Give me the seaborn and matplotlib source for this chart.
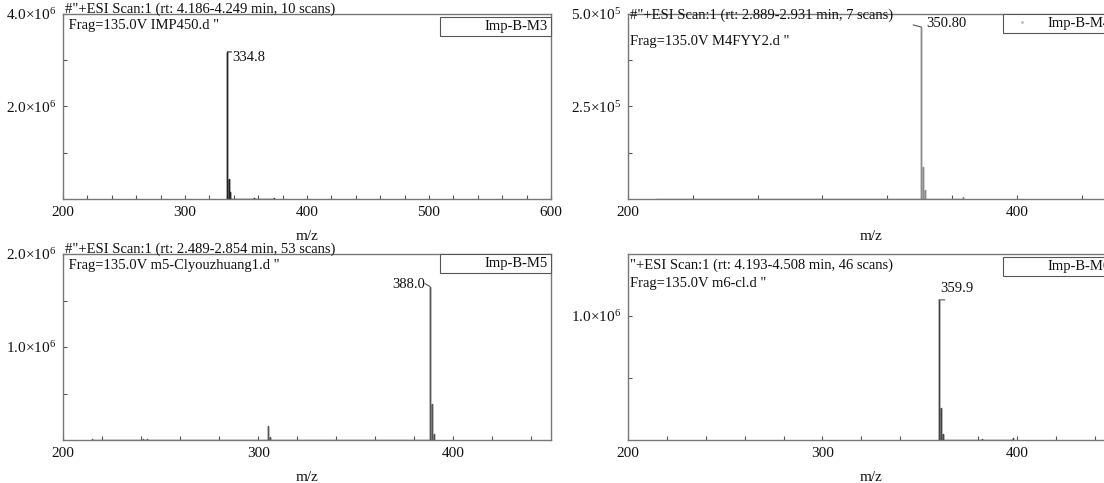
import numpy as np
import pandas as pd
import matplotlib
matplotlib.use("Agg")
import matplotlib.pyplot as plt
import seaborn as sns
from matplotlib.ticker import FixedLocator, FuncFormatter, MultipleLocator, AutoMinorLocator
from matplotlib.lines import Line2D

# ---------------- data ----------------
m3_mz = [334.8, 335.8, 336.8, 356.8, 372.9]
m3_int = [3.18e6, 0.43e6, 0.15e6, 0.012e6, 0.015e6]

m4_mz = [214.5, 350.8, 351.8, 352.8, 372.5]
m4_int = [0.006e5, 4.65e5, 0.86e5, 0.24e5, 0.05e5]

m5_mz = [215.0, 241.0, 243.0, 305.0, 306.0, 388.0, 389.0, 390.0]
m5_int = [0.006e6, 0.008e6, 0.006e6, 0.15e6, 0.03e6, 1.65e6, 0.39e6, 0.065e6]

m6_mz = [359.9, 360.9, 361.9, 382.0, 398.0]
m6_int = [1.13e6, 0.26e6, 0.05e6, 0.008e6, 0.02e6]

names = ["Imp-B-M3", "Imp-B-M4", "Imp-B-M5", "Imp-B-M6"]
headers = [
    '#"+ESI Scan:1 (rt: 4.186-4.249 min, 10 scans)',
    '#"+ESI Scan:1 (rt: 2.889-2.931 min, 7 scans)',
    '#"+ESI Scan:1 (rt: 2.489-2.854 min, 53 scans)',
    '"+ESI Scan:1 (rt: 4.193-4.508 min, 46 scans)',
]
frags = [
    ' Frag=135.0V IMP450.d "',
    'Frag=135.0V M4FYY2.d "',
    ' Frag=135.0V m5-Clyouzhuang1.d "',
    'Frag=135.0V m6-cl.d "',
]
peak_labels = ["334.8", "350.80", "388.0", "359.9"]
x_limits = [(200, 600), (200, 450), (200, 450), (200, 450)]
x_major = [[200, 300, 400, 500, 600], [200, 400], [200, 300, 400], [200, 300, 400]]
y_limits = [(0, 4.0e6), (0, 5.0e5), (0, 2.0e6), (0, 1.5e6)]
y_major = [[2.0e6, 4.0e6], [2.5e5, 5.0e5], [1.0e6, 2.0e6], [1.0e6]]
y_minor = [[1.0e6, 3.0e6], [1.25e5, 3.75e5], [0.5e6, 1.5e6], [0.5e6]]
line_colors = ["#222222", "#8a8a8a", "#555555", "#444444"]

# ---------------- style ----------------
sns.set_theme(style="white")
plt.rcParams["font.family"] = ["Liberation Serif", "DejaVu Serif"]
plt.rcParams["mathtext.fontset"] = "custom"
plt.rcParams["mathtext.rm"] = "Liberation Serif"
plt.rcParams["mathtext.default"] = "regular"

W, H = 1104, 483
fig = plt.figure(figsize=(W / 100, H / 100), dpi=100)
fig.patch.set_facecolor("white")


def rect(l, t, r, b):
    return [l / W, 1 - b / H, (r - l) / W, (b - t) / H]


positions = [rect(63, 14, 551, 199), rect(628, 14, 1114, 199),
             rect(63, 254, 551, 440), rect(628, 254, 1114, 440)]


def sci_fmt(v, pos):
    if v <= 0:
        return ""
    e = int(np.floor(np.log10(v)))
    m = v / 10 ** e
    return f"{m:.1f}×10$^{{{e}}}$"


spectra = [(m3_mz, m3_int), (m4_mz, m4_int), (m5_mz, m5_int), (m6_mz, m6_int)]
PX = 100 / 72  # px per point

for i, (mz, inten) in enumerate(spectra):
    ax = fig.add_axes(positions[i])
    # stick representation built from the peak lists
    xs, ys = [], []
    for m, h in sorted(zip(mz, inten)):
        xs += [m, m, m]
        ys += [0, h, 0]
    df = pd.DataFrame({"mz": xs, "intensity": ys})
    sns.lineplot(data=df, x="mz", y="intensity", sort=False, estimator=None,
                 color=line_colors[i], lw=1.0, ax=ax)
    ax.set_xlim(*x_limits[i])
    ax.set_ylim(*y_limits[i])
    ax.xaxis.set_major_locator(FixedLocator(x_major[i]))
    if i == 1:
        ax.xaxis.set_minor_locator(AutoMinorLocator(6))
    else:
        ax.xaxis.set_minor_locator(MultipleLocator(20))
    ax.yaxis.set_major_locator(FixedLocator(y_major[i]))
    ax.yaxis.set_minor_locator(FixedLocator(y_minor[i]))
    ax.yaxis.set_major_formatter(FuncFormatter(sci_fmt))
    ax.tick_params(which="both", direction="in", length=3, width=0.8,
                   colors="#555555", labelcolor="#111111", labelsize=11,
                   bottom=True, left=True, pad=5)
    ax.set_xlabel("m/z", fontsize=11, color="#111111", labelpad=8)
    ax.set_ylabel("")
    for s in ax.spines.values():
        s.set_color("#777777")
        s.set_linewidth(1.0)

    # header text
    hdr_y = [(-5, 12), (1, 28), (-5, 12), (11, 29)][i]
    ax.annotate(headers[i], xy=(0, 1), xycoords="axes fraction",
                xytext=(2 / PX, -hdr_y[0] / PX), textcoords="offset points",
                ha="left", va="center", fontsize=10.5, color="#111111")
    ax.annotate(frags[i], xy=(0, 1), xycoords="axes fraction",
                xytext=(2 / PX, -hdr_y[1] / PX), textcoords="offset points",
                ha="left", va="center", fontsize=10.5, color="#111111")

    # base peak label
    k = int(np.argmax(inten))
    pm, ph = mz[k], inten[k]
    if i == 0:
        ax.annotate("", xy=(pm, ph), xytext=(4 / PX, 0), textcoords="offset points",
                    arrowprops=dict(arrowstyle="-", lw=0.8, color=line_colors[i],
                                    shrinkA=0, shrinkB=0))
        ax.annotate(peak_labels[i], xy=(pm, ph), xytext=(5 / PX, -6 / PX),
                    textcoords="offset points", ha="left", va="center",
                    fontsize=10.5, color="#111111")
    elif i == 1:
        ax.annotate("", xy=(pm, ph), xytext=(-8 / PX, 2 / PX), textcoords="offset points",
                    arrowprops=dict(arrowstyle="-", lw=0.8, color="#555555",
                                    shrinkA=0, shrinkB=0))
        ax.annotate(peak_labels[i], xy=(pm, ph), xytext=(5 / PX, 3 / PX),
                    textcoords="offset points", ha="left", va="center",
                    fontsize=10.5, color="#111111")
    elif i == 2:
        ax.annotate("", xy=(pm, ph), xytext=(-5 / PX, 3 / PX), textcoords="offset points",
                    arrowprops=dict(arrowstyle="-", lw=0.8, color="#555555",
                                    shrinkA=0, shrinkB=0))
        ax.annotate(peak_labels[i], xy=(pm, ph), xytext=(-5 / PX, 2 / PX),
                    textcoords="offset points", ha="right", va="center",
                    fontsize=10.5, color="#111111")
    else:
        ax.annotate("", xy=(pm, ph), xytext=(6 / PX, 0), textcoords="offset points",
                    arrowprops=dict(arrowstyle="-", lw=0.8, color="#555555",
                                    shrinkA=0, shrinkB=0))
        ax.annotate(peak_labels[i], xy=(pm, ph), xytext=(1 / PX, 11 / PX),
                    textcoords="offset points", ha="left", va="center",
                    fontsize=10.5, color="#111111")

    # legend box
    if i == 1:
        handle = Line2D([], [], lw=0, marker=".", ms=2, color="#bbbbbb")
    else:
        handle = Line2D([], [], lw=0, marker="", color="white")
    anchor_y = [1 - 3 / 185, 1.0, 1.0, 1 - 3 / 186][i]
    leg = ax.legend([handle], [names[i]], loc="upper right",
                    bbox_to_anchor=(1.0, anchor_y), borderaxespad=0,
                    frameon=True, fancybox=False, framealpha=1,
                    edgecolor="#555555", fontsize=10.5, handlelength=2.3,
                    handletextpad=0.6, borderpad=0.2)
    leg.get_frame().set_linewidth(0.8)
    for t in leg.get_texts():
        t.set_color("#111111")

fig.savefig("out.png", dpi=100, facecolor="white")
